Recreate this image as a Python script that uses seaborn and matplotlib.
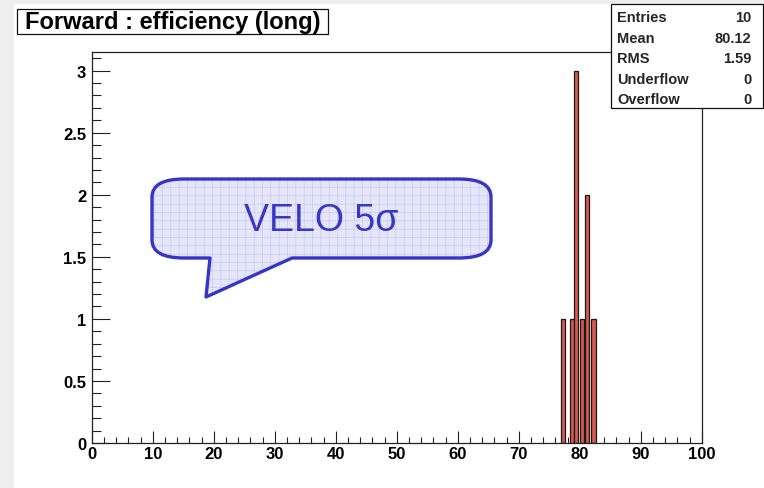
import matplotlib
matplotlib.use("Agg")
import matplotlib.pyplot as plt
import numpy as np
import pandas as pd
import seaborn as sns
from matplotlib.patches import Rectangle, PathPatch
from matplotlib.path import Path
from matplotlib.transforms import Affine2D
from matplotlib.ticker import MultipleLocator, FormatStrFormatter

# ---- histogram content ----
title = "Forward : efficiency (long)"
bin_low = [76.93, 78.40, 79.05, 80.00, 80.90, 81.90]
bar_width = [0.65, 0.65, 0.65, 0.65, 0.65, 0.80]
counts = [1, 1, 3, 1, 2, 1]

stat_names = ["Entries", "Mean", "RMS", "Underflow", "Overflow"]
stat_values = ["10", "80.12", "1.59", "0", "0"]

x_ticks = [0, 10, 20, 30, 40, 50, 60, 70, 80, 90, 100]
y_ticks = [0, 0.5, 1, 1.5, 2, 2.5, 3]
callout = "VELO 5\u03c3"

# ---- style ----
sns.set_theme(style="ticks")
plt.rcParams["font.family"] = ["Liberation Sans", "DejaVu Sans"]
plt.rcParams["hatch.linewidth"] = 0.5

W, H = 764, 489
fig = plt.figure(figsize=(W / 100, H / 100), dpi=100, facecolor="white")
px = Affine2D().scale(1 / W, -1 / H).translate(0, 1) + fig.transFigure

# canvas border strips
fig.add_artist(Rectangle((0, 0), W, 5, transform=px, facecolor="#eeeeee", edgecolor="none", zorder=0))
fig.add_artist(Rectangle((0, 0), 14, H, transform=px, facecolor="#eeeeee", edgecolor="none", zorder=0))

# ---- frame ----
x0, x1, y_top, y_bot = 91.7, 701.7, 53.0, 444.0
ax = fig.add_axes([x0 / W, (H - y_bot) / H, (x1 - x0) / W, (y_bot - y_top) / H])
ax.set_facecolor("white")

df = pd.DataFrame({"low": bin_low, "width": bar_width, "count": counts})
ax.bar(df["low"], df["count"], width=df["width"], align="edge",
       color="#d55a52", edgecolor="#1a1a1a", linewidth=0.9, zorder=2)

ax.set_xlim(0, 100)
ax.set_ylim(0, 3.15)
ax.set_xticks(x_ticks)
ax.set_yticks(y_ticks)
ax.xaxis.set_minor_locator(MultipleLocator(2))
ax.yaxis.set_minor_locator(MultipleLocator(0.1))
ax.yaxis.set_major_formatter(FormatStrFormatter("%g"))
ax.xaxis.set_major_formatter(FormatStrFormatter("%g"))

ax.tick_params(axis="both", which="both", direction="in", color="#222222", width=0.8,
               top=False, right=False, labelsize=12, labelcolor="black")
ax.tick_params(axis="y", which="major", length=13, pad=4)
ax.tick_params(axis="y", which="minor", length=6.5)
ax.tick_params(axis="x", which="major", length=8.6, pad=2.5)
ax.tick_params(axis="x", which="minor", length=4.3)
for lab in ax.get_xticklabels() + ax.get_yticklabels():
    lab.set_fontweight("bold")
for sp in ax.spines.values():
    sp.set_linewidth(0.9)
    sp.set_color("#222222")
ax.grid(False)

# ---- title box ----
fig.add_artist(Rectangle((17, 10), 311, 25, transform=px, facecolor="white",
                         edgecolor="#111111", linewidth=0.9, zorder=3))
fig.text(172.5 / W, 1 - 29.5 / H, title, ha="center", va="baseline",
         fontsize=17, fontweight="bold", color="black", zorder=4)

# ---- statistics box ----
fig.add_artist(Rectangle((611, 5), 152, 104, transform=px, facecolor="white",
                         edgecolor="#111111", linewidth=0.9, zorder=3))
for i, (name, val) in enumerate(zip(stat_names, stat_values)):
    yb = 22 + i * 20.6
    fig.text(617.5 / W, 1 - yb / H, name, ha="left", va="baseline",
             fontsize=10.5, fontweight="bold", zorder=4)
    fig.text(751.5 / W, 1 - yb / H, val, ha="right", va="baseline",
             fontsize=10.5, fontweight="bold", zorder=4)

# ---- speech bubble ----
bx0, bx1, by0, by1 = 152, 491, 180, 259
rx, ry = 32, 18
verts = [
    (bx0 + rx, by0), (bx1 - rx, by0),
    (bx1, by0), (bx1, by0 + ry),
    (bx1, by1 - ry),
    (bx1, by1), (bx1 - rx, by1),
    (292, by1), (206, 298), (210, by1),
    (bx0 + rx, by1),
    (bx0, by1), (bx0, by1 - ry),
    (bx0, by0 + ry),
    (bx0, by0), (bx0 + rx, by0),
    (bx0 + rx, by0),
]
codes = [
    Path.MOVETO, Path.LINETO,
    Path.CURVE3, Path.CURVE3,
    Path.LINETO,
    Path.CURVE3, Path.CURVE3,
    Path.LINETO, Path.LINETO, Path.LINETO,
    Path.LINETO,
    Path.CURVE3, Path.CURVE3,
    Path.LINETO,
    Path.CURVE3, Path.CURVE3,
    Path.CLOSEPOLY,
]
bubble = Path(verts, codes)
fig.add_artist(PathPatch(bubble, transform=px, facecolor="#e6e6fb", edgecolor="#c9c9f3",
                         hatch="++", linewidth=0, zorder=5))
fig.add_artist(PathPatch(bubble, transform=px, facecolor="none", edgecolor="#3535c8",
                         linewidth=2.4, joinstyle="round", zorder=6))
fig.text(321.5 / W, 1 - 231 / H, callout, ha="center", va="baseline",
         fontsize=27, color="#3838c6", zorder=7)

fig.savefig("out.png", dpi=100, facecolor=fig.get_facecolor())
